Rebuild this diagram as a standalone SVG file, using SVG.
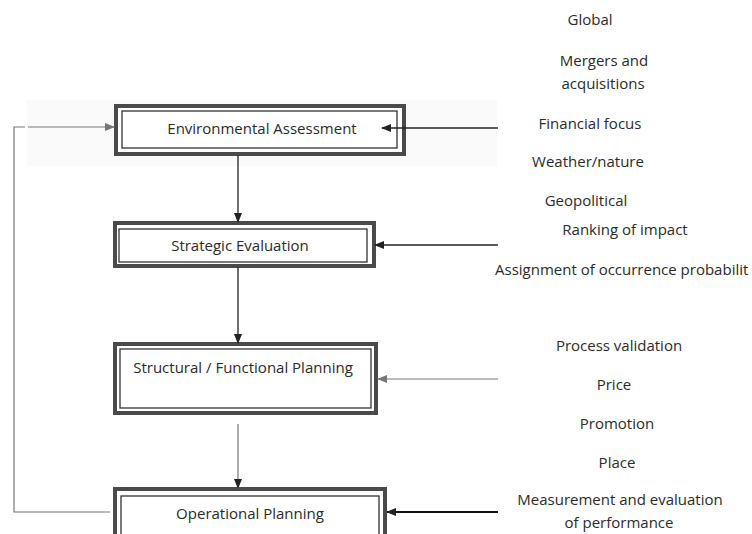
<svg xmlns="http://www.w3.org/2000/svg" width="752" height="534" viewBox="0 0 752 534">
<defs>
<style>
text{font-family:"Open Sans","Liberation Sans",sans-serif;font-size:15px;fill:#2b2b2b;text-anchor:middle}
.outer{fill:#fff;stroke:#4a4a4a;stroke-width:4}
.inner{fill:#fff;stroke:#333;stroke-width:1.3}
.c{stroke:#222;stroke-width:1.3;fill:none}
.g{stroke:#777;stroke-width:1.2;fill:none}
</style>
<marker id="ah" markerWidth="10" markerHeight="8" refX="9" refY="4" orient="auto" markerUnits="userSpaceOnUse">
<path d="M0,0 L10,4 L0,8 z" fill="#222"/>
</marker>
<marker id="ahg" markerWidth="10" markerHeight="8" refX="9" refY="4" orient="auto" markerUnits="userSpaceOnUse">
<path d="M0,0 L10,4 L0,8 z" fill="#777"/>
</marker>
</defs>
<rect width="752" height="534" fill="#fff"/>
<rect x="27" y="100" width="470" height="66" fill="#fafafa"/>

<g id="env">
<rect class="outer" x="116" y="106" width="288" height="48"/>
<rect class="inner" x="122" y="111" width="275" height="37"/>
<text x="262" y="134">Environmental Assessment</text>
</g>
<g id="strat">
<rect class="outer" x="115" y="223" width="259" height="43"/>
<rect class="inner" x="119" y="229" width="248" height="33"/>
<text x="240" y="251">Strategic Evaluation</text>
</g>
<g id="struct">
<rect class="outer" x="115" y="344" width="261" height="69"/>
<rect class="inner" x="120" y="349" width="251" height="59"/>
<text x="243" y="373">Structural / Functional Planning</text>
</g>
<g id="oper">
<rect class="outer" x="115" y="489" width="270" height="50"/>
<rect class="inner" x="121" y="496" width="258" height="40"/>
<text x="250" y="519">Operational Planning</text>
</g>

<g id="labels">
<text x="590" y="25">Global</text>
<text x="604" y="66">Mergers and</text>
<text x="603" y="89">acquisitions</text>
<text x="590" y="129">Financial focus</text>
<text x="588" y="167">Weather/nature</text>
<text x="586" y="206">Geopolitical</text>
<text x="625" y="235">Ranking of impact</text>
<text x="495" y="275" style="text-anchor:start">Assignment of occurrence probabilit</text>
<text x="619" y="351">Process validation</text>
<text x="614" y="390">Price</text>
<text x="617" y="429">Promotion</text>
<text x="617" y="468">Place</text>
<text x="620" y="505">Measurement and evaluation</text>
<text x="619" y="528">of performance</text>
</g>

<g id="connectors">
<line class="c" x1="238" y1="155" x2="238" y2="222" marker-end="url(#ah)"/>
<line class="c" x1="238" y1="267" x2="238" y2="343" marker-end="url(#ah)"/>
<line class="g" x1="238" y1="424" x2="238" y2="488" marker-end="url(#ah)"/>
<line class="c" x1="498" y1="128" x2="382" y2="128" marker-end="url(#ah)"/>
<line class="c" x1="498" y1="245" x2="375" y2="245" marker-end="url(#ah)"/>
<line class="g" x1="498" y1="379" x2="378" y2="379" marker-end="url(#ahg)"/>
<line x1="498" y1="512" x2="387" y2="512" stroke="#111" stroke-width="2" marker-end="url(#ah)"/>
<polyline class="g" points="110,512 14,512 14,127 25,127"/>
<line class="g" x1="28" y1="127" x2="114" y2="127" marker-end="url(#ahg)"/>
</g>
</svg>
